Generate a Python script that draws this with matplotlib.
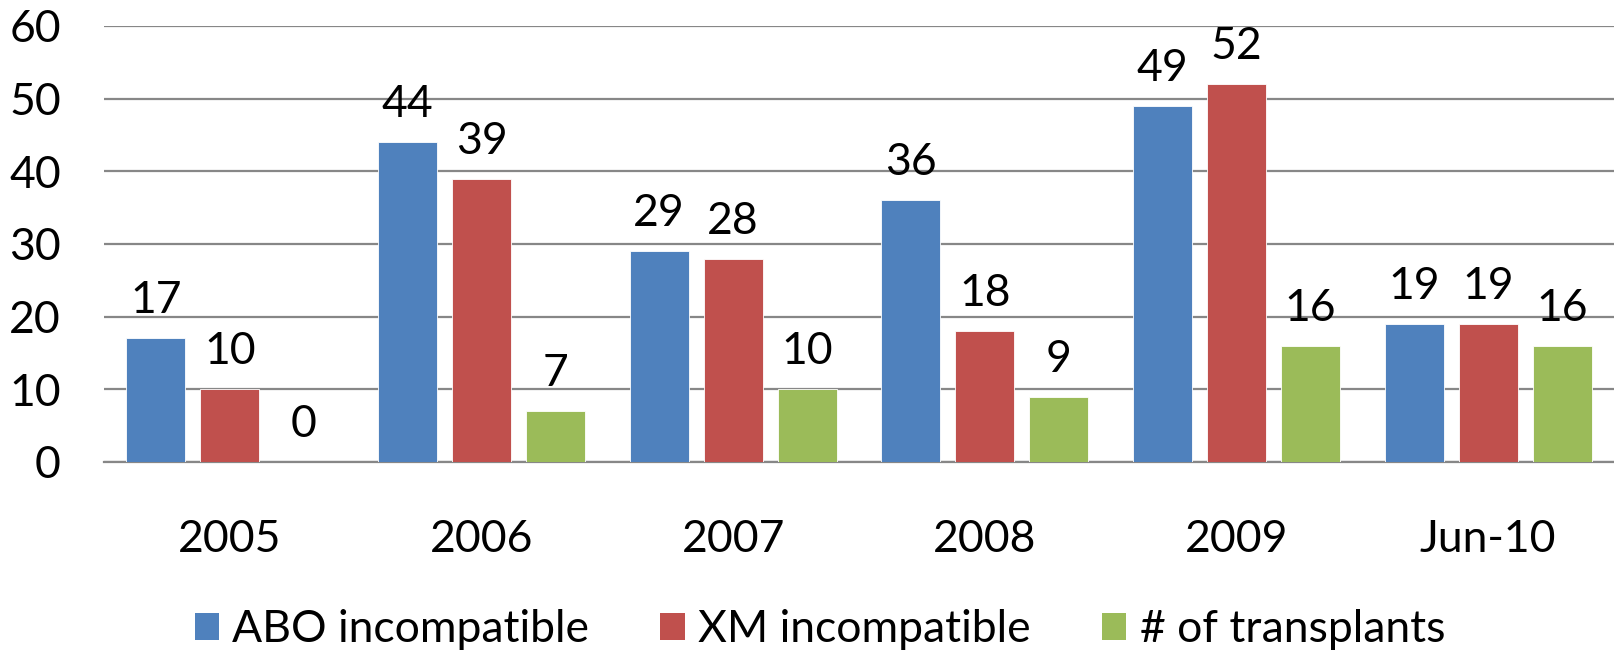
import numpy as np
import matplotlib.pyplot as plt
from matplotlib.patches import Patch

plt.rcParams['font.family'] = ['Lato', 'DejaVu Sans']

categories = ['2005', '2006', '2007', '2008', '2009', 'Jun-10']
abo = [17, 44, 29, 36, 49, 19]
xm = [10, 39, 28, 18, 52, 19]
transplants = [0, 7, 10, 9, 16, 16]
series_names = ['ABO incompatible', 'XM incompatible', '# of transplants']
colors = ['#4F81BD', '#C0504D', '#9BBB59']

fig = plt.figure(figsize=(16.14, 6.55), dpi=100)
ax = fig.add_axes([104 / 1614, 1 - 462 / 655, 1 - 104 / 1614, (462 - 26) / 655])

x = np.arange(len(categories))
width = 0.234
step = 0.294
for i, (vals, col) in enumerate(zip([abo, xm, transplants], colors)):
    pos = x + (i - 1) * step
    ax.bar(pos, vals, width, color=col, edgecolor='white', linewidth=0.6, zorder=3)
    for p, v in zip(pos, vals):
        ax.annotate(str(v), (p, v), xytext=(0, 18), textcoords='offset points',
                    ha='center', va='baseline', fontsize=32)

ax.set_xlim(-0.5, len(categories) - 0.5)
ax.set_ylim(0, 60)
ax.set_yticks(range(0, 61, 10))
ax.yaxis.grid(True, color='#878787', linewidth=1.6, zorder=0)
ax.set_xticks(x)
ax.set_xticklabels(categories)
ax.tick_params(axis='both', length=0, labelsize=32)
ax.tick_params(axis='y', pad=31)
ax.tick_params(axis='x', pad=41)
for s in ['top', 'right', 'left']:
    ax.spines[s].set_visible(False)
ax.spines['bottom'].set_color('#878787')
ax.spines['bottom'].set_linewidth(1.6)

handles = [Patch(facecolor=c) for c in colors]
fig.legend(handles, series_names, loc='center', bbox_to_anchor=(0.508, 1 - 630 / 655),
           ncol=3, frameon=False, fontsize=32, handlelength=0.55, handleheight=0.55,
           handletextpad=0.3, columnspacing=1.6)

fig.savefig('out.png', dpi=100)
